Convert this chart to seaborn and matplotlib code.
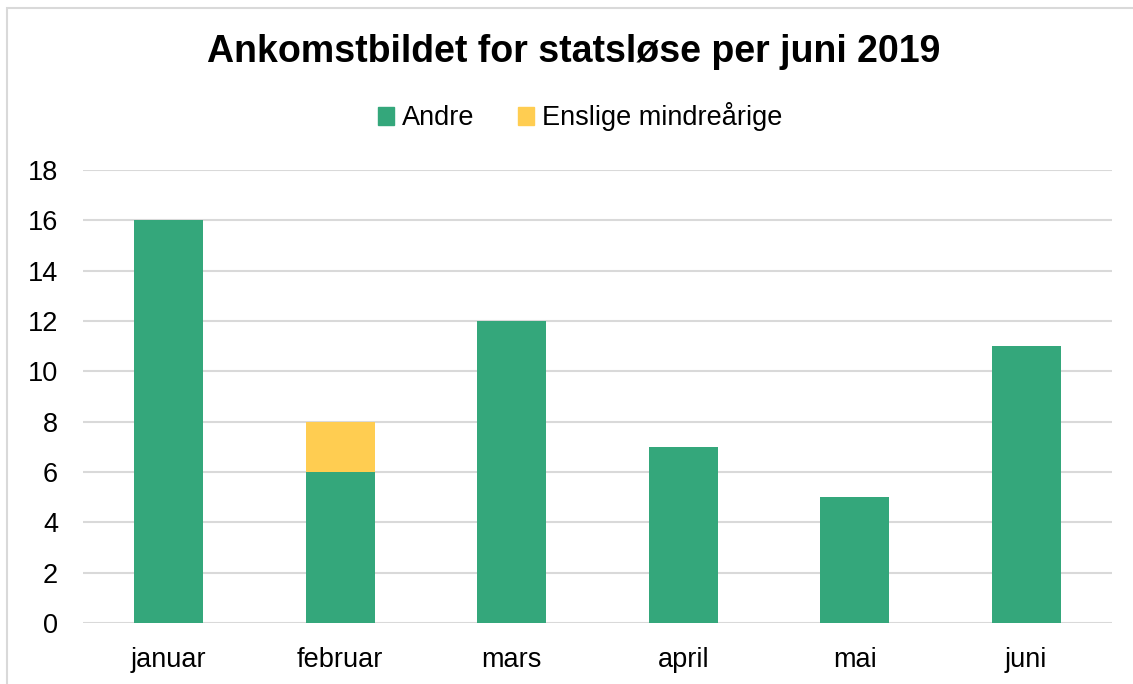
import matplotlib
matplotlib.use("Agg")
import matplotlib.pyplot as plt
import seaborn as sns
import pandas as pd
from matplotlib.patches import Rectangle, Patch

sns.set_style("white")
plt.rcParams['font.family'] = ['Liberation Sans', 'DejaVu Sans']

# data
months = ["januar", "februar", "mars", "april", "mai", "juni"]
andre = [16, 6, 12, 7, 5, 11]
enslige = [0, 2, 0, 0, 0, 0]

green = "#34A77B"
yellow = "#FFCD51"

df = pd.DataFrame({"month": months, "Andre": andre, "Enslige": enslige})
df["total"] = df["Andre"] + df["Enslige"]

fig = plt.figure(figsize=(11.33, 6.84), dpi=100)
ax = fig.add_axes([0.0733, 0.0892, 0.9082, 0.6623])

# stacked: total in yellow, Andre on top in green
sns.barplot(data=df, x="month", y="total", color=yellow, width=0.4,
            saturation=1, linewidth=0, ax=ax, zorder=3)
sns.barplot(data=df, x="month", y="Andre", color=green, width=0.4,
            saturation=1, linewidth=0, ax=ax, zorder=4)

ax.set_ylim(0, 18)
ax.set_yticks(range(0, 19, 2))
ax.set_xlim(-0.5, 5.5)
ax.set_xlabel("")
ax.set_ylabel("")
ax.yaxis.grid(True, color="#D9D9D9", linewidth=1.5, zorder=0)
ax.set_axisbelow(True)
for s in ax.spines.values():
    s.set_visible(False)
ax.tick_params(axis="both", length=0, labelsize=19.5, colors="black")
ax.tick_params(axis="y", pad=18)
ax.tick_params(axis="x", pad=17)

fig.suptitle("Ankomstbildet for statsløse per juni 2019", x=0.506, y=0.95,
             fontsize=27, fontweight="bold", color="black")

handles = [Patch(color=green, label="Andre"),
           Patch(color=yellow, label="Enslige mindreårige")]
fig.legend(handles=handles, loc="center", bbox_to_anchor=(0.512, 0.829),
           ncol=2, frameon=False, fontsize=19.5, handlelength=0.6,
           handleheight=0.6, handletextpad=0.3, columnspacing=1.6,
           labelcolor="black")

# outer chart border
fig.patches.append(Rectangle((6.5 / 1133, -0.05), 1.2, 1.05 - 7.5 / 684,
                             transform=fig.transFigure, fill=False,
                             edgecolor="#D9D9D9", linewidth=1.5))

fig.savefig("out.png", dpi=100)
